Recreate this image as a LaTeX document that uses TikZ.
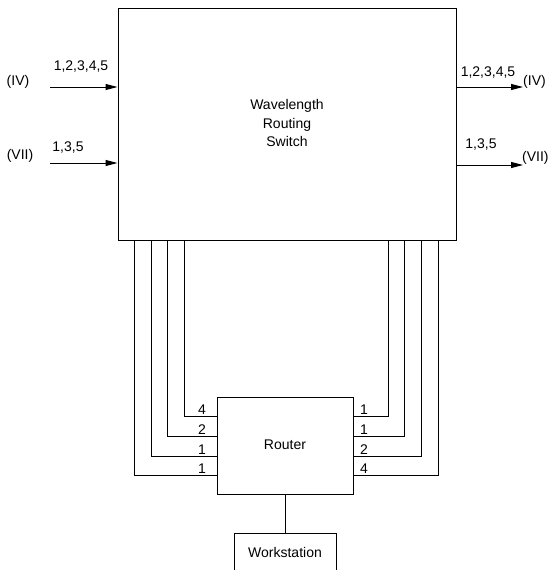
\documentclass[tikz,border=0pt]{standalone}
\usepackage{fontspec}
\setmainfont{Liberation Sans}
\usetikzlibrary{arrows.meta}
\begin{document}
\begin{tikzpicture}[x=1pt,y=-1pt,
  box/.style={draw,line width=1pt,inner sep=0pt},
  wire/.style={line width=1pt},
  arr/.style={line width=1pt,-{Triangle[length=12pt,width=6pt]}},
  lbl/.style={inner sep=0pt,font=\fontsize{14}{17}\selectfont},
  num/.style={inner sep=0pt,anchor=south,font=\fontsize{14}{17}\selectfont}]
\useasboundingbox (0,0) rectangle (548,570);
% main boxes
\node[box,minimum width=338pt,minimum height=232pt] (sw) at (287,124) {};
\node[lbl,align=center] (swt) at (287,123) {Wavelength\\[1.5pt]Routing\\[1.5pt]Switch};
\node[box,minimum width=136pt,minimum height=97pt] (rt) at (285,445.5) {};
\node[lbl] (rtt) at (285,445) {Router};
\node[box,minimum width=102pt,minimum height=60pt] (ws) at (285,563) {};
\node[lbl] (wst) at (285,552) {Workstation};
\draw[wire] (rt.south) -- (ws.north);
% input/output arrows
\coordinate (inIV) at (50,87);
\coordinate (inVII) at (50,163);
\coordinate (outIV) at (523,87);
\coordinate (outVII) at (523,165);
\draw[arr] (inIV) -- (sw.west |- inIV);
\draw[arr] (inVII) -- (sw.west |- inVII);
\draw[arr] (sw.east |- outIV) -- (outIV);
\draw[arr] (sw.east |- outVII) -- (outVII);
\node[lbl] (l1) at (18,82) {(IV)};
\node[lbl] (l2) at (20,156) {(VII)};
\node[lbl] (l3) at (81,67) {1,2,3,4,5};
\node[lbl] (l4) at (68,148) {1,3,5};
\node[lbl] (r1) at (488,73) {1,2,3,4,5};
\node[lbl] (r2) at (481,145) {1,3,5};
\node[lbl,anchor=west] (r3) at (523,82) {(IV)};
\node[lbl,anchor=west] (r4) at (522,158) {(VII)};
% wires left
\coordinate (xa) at (134,0); \coordinate (ya) at (0,475);
\coordinate (xb) at (151,0); \coordinate (yb) at (0,456);
\coordinate (xc) at (167,0); \coordinate (yc) at (0,436);
\coordinate (xd) at (184,0); \coordinate (yd) at (0,416);
\draw[wire] (sw.south -| xa) |- (rt.west |- ya);
\draw[wire] (sw.south -| xb) |- (rt.west |- yb);
\draw[wire] (sw.south -| xc) |- (rt.west |- yc);
\draw[wire] (sw.south -| xd) |- (rt.west |- yd);
% wires right
\coordinate (xe) at (388,0);
\coordinate (xf) at (404,0);
\coordinate (xg) at (421,0);
\coordinate (xh) at (438,0);
\draw[wire] (sw.south -| xe) |- (rt.east |- yd);
\draw[wire] (sw.south -| xf) |- (rt.east |- yc);
\draw[wire] (sw.south -| xg) |- (rt.east |- yb);
\draw[wire] (sw.south -| xh) |- (rt.east |- ya);
% port labels
\node[num] (p1) at (202,415) {4};
\node[num] (p2) at (202,435) {2};
\node[num] (p3) at (202,455) {1};
\node[num] (p4) at (202,474) {1};
\node[num] (p5) at (364,415) {1};
\node[num] (p6) at (364,435) {1};
\node[num] (p7) at (364,455) {2};
\node[num] (p8) at (364,474) {4};
\end{tikzpicture}
\end{document}
